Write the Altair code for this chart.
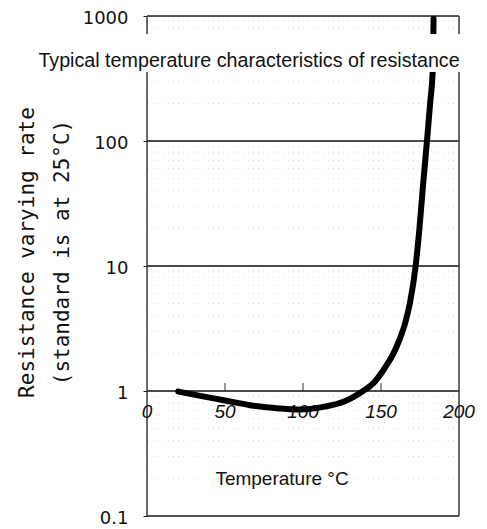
import altair as alt
import pandas as pd

# --- data ---
temps = [20, 35, 50, 66, 82, 98, 114, 126, 138.5, 145, 152, 158, 162, 165.5, 168.6, 172.2, 174.6, 177, 179.3, 181.5, 183.3, 183.7]
rates = [0.99, 0.91, 0.84, 0.77, 0.73, 0.71, 0.75, 0.82, 1.0, 1.15, 1.5, 2.0, 2.6, 3.5, 5.1, 10, 19.8, 45, 95, 200, 400, 950]

y_tick_values = [0.1, 1, 10, 100, 1000]
major_grid = [1, 10, 100]
frame_y = [0.1, 1000]
frame_x = [0, 200]
minor_grid = [0.2, 0.3, 0.4, 0.5, 0.6, 0.7, 0.8, 0.9,
              2, 3, 4, 5, 6, 7, 8, 9,
              20, 30, 40, 50, 60, 70, 80, 90,
              200, 300, 400, 500, 600, 700, 800, 900]
x_label_values = [0, 50, 100, 150, 200]
x_inner_ticks = [50, 100, 150]
x_label_row = [1, 1, 1, 1, 1]
tick_base = [1, 1, 1]
tick_top = [1.16, 1.16, 1.16]

chart_title = "Typical temperature characteristics of resistance"
x_title = "Temperature °C"
y_title = ["Resistance varying rate", "(standard is at 25°C)"]

curve_df = pd.DataFrame({"temp": temps, "rate": rates})
major_df = pd.DataFrame({"v": major_grid})
minor_df = pd.DataFrame({"v": minor_grid})
framey_df = pd.DataFrame({"v": frame_y})
framex_df = pd.DataFrame({"v": frame_x})
xlab_df = pd.DataFrame({"temp": x_label_values, "rate": x_label_row,
                        "lab": [str(v) for v in x_label_values]})
tick_df = pd.DataFrame({"temp": x_inner_ticks, "rate": tick_base, "rate2": tick_top})

xscale = alt.Scale(domain=[0, 200], nice=False, zero=False)
yscale = alt.Scale(type="log", domain=[0.1, 1000], nice=False)

yaxis = alt.Axis(
    values=y_tick_values, format="~g", grid=False, domain=False,
    ticks=True, tickSize=4, tickColor="#222",
    labelFont="DejaVu Sans", labelFontSize=18, labelColor="#111", labelPadding=15,
    labelBaseline="alphabetic", labelOffset=7,
    title=y_title, titleFont="DejaVu Sans Mono", titleFontSize=21,
    titleFontWeight="normal", titleColor="#111", titleAngle=270,
    titleX=-120, titleY=236, titleAlign="center", titleBaseline="middle",
    titleLineHeight=35,
)

minor = alt.Chart(minor_df).mark_rule(
    color="#9a9a9a", strokeDash=[1, 4], strokeWidth=1, opacity=0.35
).encode(y=alt.Y("v:Q", scale=yscale, axis=yaxis))

major = alt.Chart(major_df).mark_rule(color="#111", strokeWidth=1.3).encode(
    y=alt.Y("v:Q", scale=yscale, axis=yaxis)
)

frame_h = alt.Chart(framey_df).mark_rule(color="#222", strokeWidth=1.4).encode(
    y=alt.Y("v:Q", scale=yscale, axis=yaxis)
)

frame_v = alt.Chart(framex_df).mark_rule(color="#333", strokeWidth=1.4).encode(
    x=alt.X("v:Q", scale=xscale, axis=None)
)

inner_ticks = alt.Chart(tick_df).mark_rule(color="#333", strokeWidth=1).encode(
    x=alt.X("temp:Q", scale=xscale, axis=None),
    y=alt.Y("rate:Q", scale=yscale, axis=yaxis),
    y2="rate2:Q",
)

xlabels = alt.Chart(xlab_df).mark_text(
    font="Liberation Sans", fontStyle="italic", fontSize=19, color="#111",
    dy=21, align="center", baseline="middle"
).encode(
    x=alt.X("temp:Q", scale=xscale, axis=None),
    y=alt.Y("rate:Q", scale=yscale, axis=yaxis),
    text="lab:N",
)

curve = alt.Chart(curve_df).mark_line(
    color="#000", strokeWidth=6, interpolate="monotone", strokeCap="round"
).encode(
    x=alt.X("temp:Q", scale=xscale, axis=None),
    y=alt.Y("rate:Q", scale=yscale, axis=yaxis),
)

xtitle = alt.Chart(pd.DataFrame({"t": [x_title]})).mark_text(
    font="Liberation Sans", fontSize=19, color="#111", align="center", baseline="alphabetic"
).encode(text="t:N", x=alt.value(135), y=alt.value(469))

title_bg = alt.Chart(pd.DataFrame({"t": [0]})).mark_rect(color="white").encode(
    x=alt.value(-112), x2=alt.value(316), y=alt.value(18), y2=alt.value(56)
)

title_txt = alt.Chart(pd.DataFrame({"t": [chart_title]})).mark_text(
    font="Liberation Sans", fontSize=19.7, color="#111", align="center", baseline="alphabetic"
).encode(text="t:N", x=alt.value(102), y=alt.value(51))

chart = alt.layer(
    minor, major, frame_h, frame_v, inner_ticks, xlabels, curve, xtitle, title_bg, title_txt
).properties(
    width=312, height=500, autosize="none",
    padding={"left": 139, "top": 8, "right": 20, "bottom": 13},
).configure_view(stroke=None).configure(background="white")

chart.save("out.html", embed_options={"renderer": "svg", "actions": False})
